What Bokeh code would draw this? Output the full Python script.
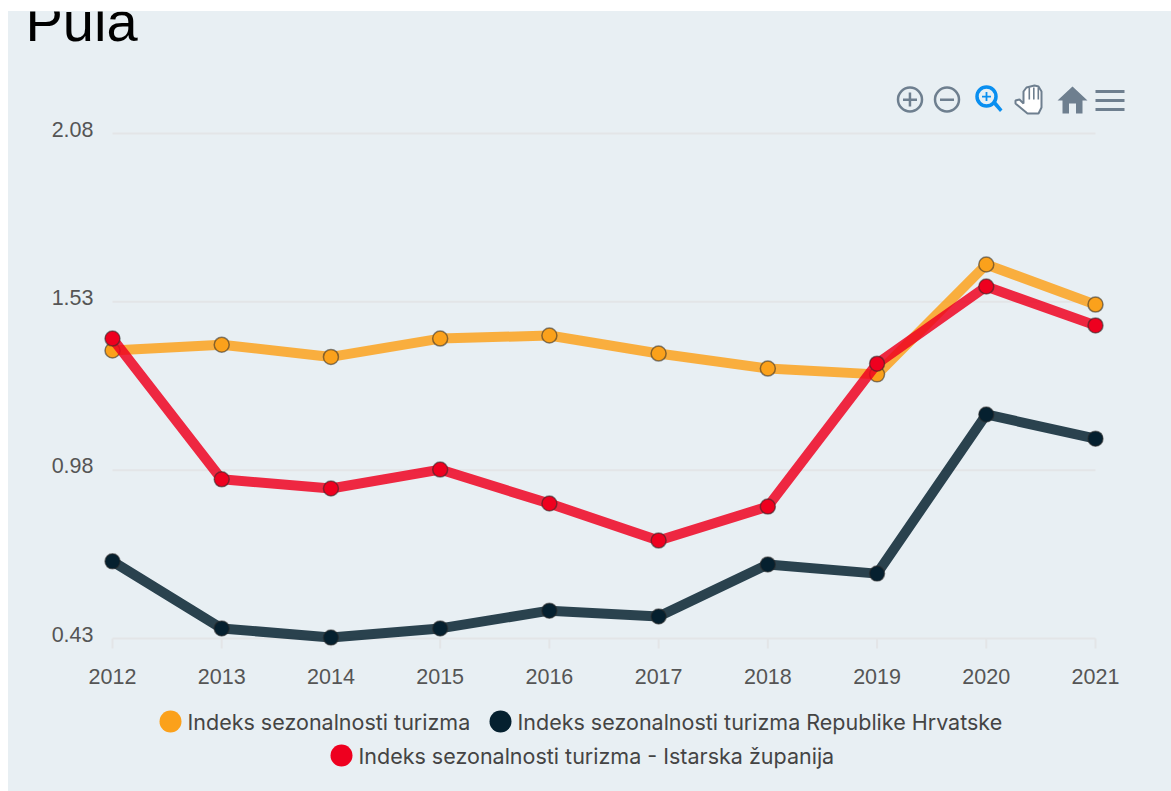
from bokeh.core.properties import value
from bokeh.embed import file_html
from bokeh.models import ColumnDataSource, GlobalInlineStyleSheet, Range1d
from bokeh.plotting import figure
from bokeh.resources import INLINE

title_text = "Pula"
years = [2012, 2013, 2014, 2015, 2016, 2017, 2018, 2019, 2020, 2021]
y_ticks = [0.43, 0.98, 1.53, 2.08]
y_tick_labels = ["0.43", "0.98", "1.53", "2.08"]
name_orange = "Indeks sezonalnosti turizma"
name_navy = "Indeks sezonalnosti turizma Republike Hrvatske"
name_red = "Indeks sezonalnosti turizma - Istarska županija"
orange = [1.371, 1.390, 1.350, 1.410, 1.420, 1.361, 1.312, 1.293, 1.652, 1.521]
navy = [0.682, 0.463, 0.433, 0.463, 0.521, 0.502, 0.672, 0.642, 1.162, 1.083]
red = [1.410, 0.950, 0.920, 0.982, 0.871, 0.750, 0.861, 1.328, 1.580, 1.453]

BG = "#E8EFF3"
GRID = "#E3E5E7"
ORANGE, NAVY, RED = "#FBA11B", "#05202F", "#EE001F"
ICON = "#6E7F8F"
BLUE = "#0A8FF0"

PX_PER_YEAR = 983 / 9
PX_PER_UNIT = 505 / 1.65


def dx(px):  # page pixel -> data x
    return years[0] + (px - 112) / PX_PER_YEAR


def dy(py):  # page pixel -> data y
    return y_ticks[0] + (638 - py) / PX_PER_UNIT


# the frame fills the whole canvas, so every mark can be a plain glyph on the shared scales
p = figure(width=1163, height=780, output_backend="svg", toolbar_location=None,
           x_range=Range1d(dx(8), dx(1171)), y_range=Range1d(dy(791), dy(11)),
           x_axis_location=None, y_axis_location=None,
           min_border=0, min_border_left=0, min_border_right=0, min_border_top=0, min_border_bottom=0,
           background_fill_color=None, border_fill_color=None, outline_line_color=None,
           styles={"background-color": BG})
p.stylesheets = [GlobalInlineStyleSheet(css="html,body{overflow:hidden;background:#fff}body{margin:11px 0 0 8px !important}")]
p.grid.visible = False

# grid lines, axis line and short x tick marks
p.segment(x0=[years[0]] * len(y_ticks), x1=[years[-1]] * len(y_ticks), y0=y_ticks, y1=y_ticks,
          line_color=GRID, line_width=2)
p.segment(x0=years, x1=years, y0=[y_ticks[0]] * len(years),
          y1=[y_ticks[0] - 10 / PX_PER_UNIT] * len(years), line_color=GRID, line_width=2)

for vals, col in ((orange, ORANGE), (navy, NAVY), (red, RED)):
    src = ColumnDataSource(dict(x=years, y=vals))
    p.line("x", "y", source=src, line_color=col, line_width=10, line_alpha=0.84, line_join="round")
    p.scatter("x", "y", source=src, size=15, fill_color=col, line_color="#2A2A2A",
              line_alpha=0.55, line_width=1.5)

TICK_FONT = dict(text_font=value("Liberation Sans"), text_font_size=value("21.5px"), text_color="#555555")
p.text(x=years, y=[dy(676)] * len(years), text=[str(v) for v in years],
       text_align="center", text_baseline="middle", **TICK_FONT)
p.text(x=[years[0]] * len(y_ticks), y=y_ticks, text=y_tick_labels, x_offset=-19, y_offset=-4.5,
       text_align="right", text_baseline="middle", **TICK_FONT)

# the title's upper part runs off the top of the panel, as in the reference
p.text(x=[dx(25)], y=[dy(21)], text=[title_text], text_font=value("Liberation Sans"),
       text_font_size=value("56px"), text_color="#000000", text_baseline="alphabetic")

# legend
for cx, cy, col, name in ((170, 721, ORANGE, name_orange), (500, 721, NAVY, name_navy), (341, 755, RED, name_red)):
    p.scatter([dx(cx)], [dy(cy)], size=22, fill_color=col, line_color=None)
    p.text(x=[dx(cx + 17)], y=[dy(cy)], text=[name], text_font=value("Inter"),
           text_font_size=value("21.5px"), text_color="#444444", text_baseline="middle")


def poly(pts, fill, line=None, lw=1.0):
    p.patch([dx(a) for a, _ in pts], [dy(b) for _, b in pts], fill_color=fill, line_color=line, line_width=lw)


def ring(cx, cy, size, col, lw):
    p.scatter([dx(cx)], [dy(cy)], size=size, fill_alpha=0, line_color=col, line_width=lw)


def rect(x0, y0, x1, y1, col):
    poly([(x0, y0), (x1, y0), (x1, y1), (x0, y1)], col)


# zoom in
ring(909.5, 99, 24, ICON, 2.5)
rect(902.5, 98, 916.5, 100.5, ICON)
rect(908.2, 92, 910.7, 106, ICON)
# zoom out
ring(946.5, 99, 24, ICON, 2.5)
rect(939.5, 98, 953.5, 100.5, ICON)
# magnifier
ring(986, 96, 19, BLUE, 3.5)
poly([(992, 103), (995, 100.5), (1002, 109), (999.5, 111.5)], BLUE)
rect(981.5, 95.2, 990.5, 97, BLUE)
rect(985.1, 91.5, 986.9, 100.5, BLUE)
# hand
poly([(1041, 91), (1041, 107), (1038, 113), (1027, 113), (1015, 103), (1015, 100), (1019, 99),
      (1023, 103), (1023, 91), (1026, 87), (1030, 86), (1034, 85), (1038, 86)],
     "#FFFFFF", line=ICON, lw=2)
for fx in (1028, 1032.5, 1037):
    rect(fx, 87, fx + 1.6, 99, ICON)
# home
poly([(1072, 86), (1087, 100), (1082, 100), (1082, 113), (1075.5, 113), (1075.5, 103), (1068.5, 103),
      (1068.5, 113), (1062, 113), (1062, 100), (1057, 100)], ICON)
# menu
for my in (91, 100, 109):
    rect(1095, my - 1.5, 1124, my + 1.5, ICON)

open("out.html", "w").write(file_html(p, INLINE))
